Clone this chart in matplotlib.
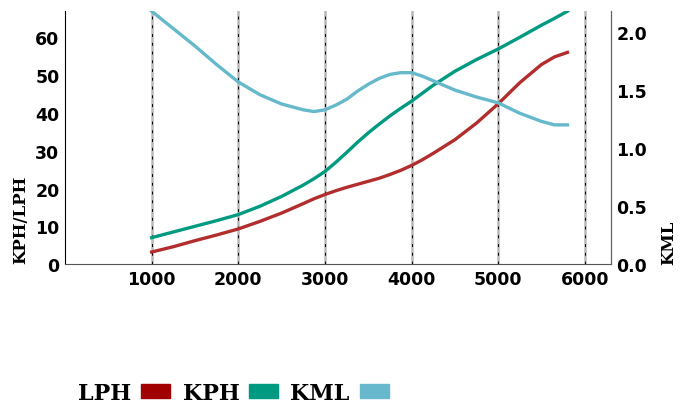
import matplotlib
matplotlib.use('Agg')
import matplotlib.pyplot as plt
from matplotlib.patches import Patch

# readings
rpm = [1000, 1250, 1500, 1750, 2000, 2250, 2500, 2750, 2875, 3000, 3125, 3250,
       3375, 3500, 3625, 3750, 3875, 4000, 4125, 4250, 4500, 4750, 5000,
       5250, 5500, 5650, 5800]
lph = [3.2, 4.6, 6.2, 7.7, 9.3, 11.3, 13.5, 16.0, 17.3, 18.4, 19.4, 20.3,
       21.1, 21.9, 22.7, 23.7, 24.8, 26.1, 27.6, 29.3, 32.9, 37.3, 42.4,
       48.0, 52.8, 54.8, 56.0]
kph = [7.0, 8.5, 10.0, 11.5, 13.1, 15.3, 17.9, 20.9, 22.6, 24.5, 26.9, 29.5,
       32.2, 34.7, 37.0, 39.2, 41.2, 43.1, 45.2, 47.3, 51.0, 54.1, 56.9,
       60.0, 63.2, 65.0, 66.9]
kml = [2.18, 2.03, 1.88, 1.72, 1.57, 1.46, 1.38, 1.33, 1.315, 1.33, 1.37, 1.42,
       1.49, 1.55, 1.60, 1.635, 1.65, 1.65, 1.62, 1.58, 1.50, 1.44, 1.39,
       1.30, 1.23, 1.20, 1.20]
grid_x = [1000, 2000, 3000, 4000, 5000, 6000]

fig = plt.figure(figsize=(6.84, 4.06), dpi=100)
ax = fig.add_axes([0.095, 0.347, 0.798, 0.623])
ax2 = ax.twinx()

for g in grid_x:
    ax.axvline(g, color='#b8b8b8', lw=1.8, zorder=0)
    ax.axvline(g, color='black', lw=0.7, dashes=(3, 6), zorder=0)

ax.plot(rpm, lph, color='#b22e2e', lw=2.4)
ax.plot(rpm, kph, color='#009a80', lw=2.4)
ax2.plot(rpm, kml, color='#65b9cb', lw=2.4)

ax.set_xlim(0, 6300)
ax.set_ylim(0, max(kph))
ax2.set_ylim(0, max(kml))
ax.set_xticks(grid_x)
ax.set_yticks([0, 10, 20, 30, 40, 50, 60])
ax2.set_yticks([0.0, 0.5, 1.0, 1.5, 2.0])
ax2.set_yticklabels(['0.0', '0.5', '1.0', '1.5', '2.0'])

for a in (ax, ax2):
    a.tick_params(length=0, labelsize=12.5, pad=4)
    for lab in a.get_xticklabels() + a.get_yticklabels():
        lab.set_fontweight('bold')
    a.spines['top'].set_visible(False)

ax.spines['left'].set_color('black')
ax.spines['bottom'].set_color('#555555')
ax2.spines['right'].set_color('#666666')
ax2.spines['left'].set_visible(False)
ax2.spines['bottom'].set_visible(False)

ax.set_ylabel('KPH/LPH', family='DejaVu Serif', fontweight='heavy', fontsize=12)
ax2.set_ylabel('KML', family='DejaVu Serif', fontweight='heavy', fontsize=12)
ax.yaxis.set_label_coords(-0.065, 0.18)
ax2.yaxis.set_label_coords(1.09, 0.09)

handles = [Patch(color='#a00000'), Patch(color='#009a80'), Patch(color='#67b8cc')]
fig.legend(handles, ['LPH', 'KPH', 'KML'], loc='center left', bbox_to_anchor=(0.085, 0.03),
           ncol=3, frameon=False, markerfirst=False, handlelength=1.3, handleheight=0.6,
           handletextpad=0.45, columnspacing=0.55,
           prop={'family': 'DejaVu Serif', 'weight': 'heavy', 'size': 16})

fig.savefig('out.png', dpi=100)
